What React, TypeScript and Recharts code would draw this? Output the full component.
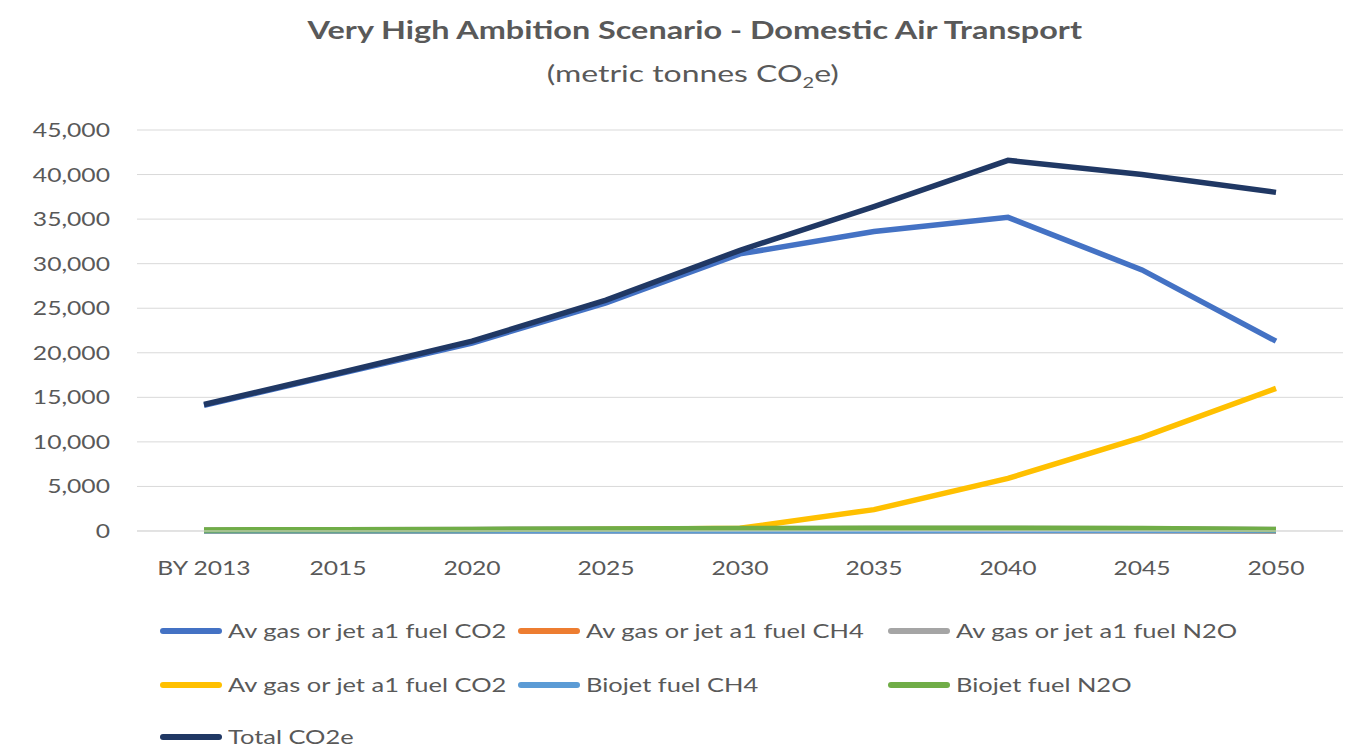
import { LineChart, Line, XAxis, YAxis, CartesianGrid } from 'recharts'

// Years on the category axis
const years = ['BY 2013', '2015', '2020', '2025', '2030', '2035', '2040', '2045', '2050']

// Emissions per series, metric tonnes CO2e
const avGasCO2 = [14100, 17600, 21100, 25600, 31100, 33600, 35200, 29300, 21300]
const avGasCH4 = [10, 12, 15, 18, 20, 20, 18, 15, 10]
const avGasN2O = [120, 150, 180, 220, 260, 280, 290, 240, 170]
const biojetCO2 = [0, 0, 60, 180, 300, 2400, 5900, 10500, 16000]
const biojetCH4 = [0, 0, 2, 5, 8, 10, 15, 20, 25]
const biojetN2O = [120, 150, 180, 230, 280, 300, 310, 280, 170]
const totalCO2e = [14200, 17700, 21300, 25900, 31500, 36400, 41600, 40000, 38000]

const yTicks = [0, 5000, 10000, 15000, 20000, 25000, 30000, 35000, 40000, 45000]

const series = [
  { key: 'avGasCO2', name: 'Av gas or jet a1 fuel CO2', color: '#4472C4', values: avGasCO2 },
  { key: 'avGasCH4', name: 'Av gas or jet a1 fuel CH4', color: '#ED7D31', values: avGasCH4 },
  { key: 'avGasN2O', name: 'Av gas or jet a1 fuel N2O', color: '#A5A5A5', values: avGasN2O },
  { key: 'biojetCO2', name: 'Av gas or jet a1 fuel CO2', color: '#FFC000', values: biojetCO2 },
  { key: 'biojetCH4', name: 'Biojet fuel CH4', color: '#5B9BD5', values: biojetCH4 },
  { key: 'biojetN2O', name: 'Biojet fuel N2O', color: '#70AD47', values: biojetN2O },
  { key: 'totalCO2e', name: 'Total CO2e', color: '#203864', values: totalCO2e },
]

const data = years.map((year, i) => {
  const row: Record<string, string | number> = { year }
  series.forEach((s) => {
    row[s.key] = s.values[i]
  })
  return row
})

const font = 'Lato, "Open Sans", sans-serif'
const textColor = '#595959'

// legend sits in fixed columns, three per row
const legendCols = [160, 518, 888]
const legendRows = [632, 686, 738]

// tick text is drawn a little wider than the font's natural width
const XTick = ({ x, y, payload }: any) => (
  <g transform={`translate(${x},${y})`}>
    <text transform="scale(1.3,1)" textAnchor="middle" dy={14} fill={textColor} fontSize={19} fontFamily={font}>
      {payload.value}
    </text>
  </g>
)

const YTick = ({ y, payload }: any) => (
  <g transform={`translate(110,${y})`}>
    <text transform="scale(1.3,1)" textAnchor="end" dy={7} fill={textColor} fontSize={19} fontFamily={font}>
      {Number(payload.value).toLocaleString('en-US')}
    </text>
  </g>
)

export default function App() {
  return (
    <div style={{ position: 'absolute', left: 0, top: 0, width: 1353, height: 749, background: '#fff', fontFamily: font }}>
      <div style={{ position: 'absolute', left: 0, top: 15, width: 1390, textAlign: 'center', fontSize: 24, fontWeight: 700, color: textColor }}>
        <span style={{ display: 'inline-block', transform: 'scaleX(1.35)' }}>
          Very High Ambition Scenario - Domestic Air Transport
        </span>
      </div>
      <div style={{ position: 'absolute', left: 0, top: 58, width: 1386, textAlign: 'center', fontSize: 24, color: textColor }}>
        <span style={{ display: 'inline-block', transform: 'scaleX(1.33)' }}>
          (metric tonnes CO<sub style={{ fontSize: 15 }}>2</sub>e)
        </span>
      </div>
      <LineChart width={1353} height={749} data={data} margin={{ top: 130, right: 10, bottom: 168, left: 0 }}>
        <CartesianGrid vertical={false} stroke="#d9d9d9" />
        <XAxis
          dataKey="year"
          height={50}
          padding={{ left: 67, right: 67 }}
          axisLine={{ stroke: '#d9d9d9' }}
          tickLine={false}
          tickMargin={24}
          tick={<XTick />}
        />
        <YAxis
          width={137}
          domain={[0, 45000]}
          ticks={yTicks}
          axisLine={false}
          tickLine={false}
          tick={<YTick />}
        />
        {series.map((s) => (
          <Line
            key={s.key}
            dataKey={s.key}
            name={s.name}
            stroke={s.color}
            strokeWidth={5.5}
            dot={false}
            type="linear"
            isAnimationActive={false}
          />
        ))}
      </LineChart>
      {series.map((s, i) => (
        <div
          key={s.key}
          style={{
            position: 'absolute',
            left: legendCols[i % 3],
            top: legendRows[Math.floor(i / 3)] - 13,
            display: 'flex',
            alignItems: 'center',
            fontSize: 19,
            color: textColor,
            whiteSpace: 'nowrap',
          }}
        >
          <span style={{ display: 'inline-block', width: 62, height: 6, borderRadius: 3, background: s.color, marginRight: 6 }} />
          <span style={{ display: 'inline-block', transform: 'scaleX(1.34)', transformOrigin: 'left center' }}>{s.name}</span>
        </div>
      ))}
    </div>
  )
}
